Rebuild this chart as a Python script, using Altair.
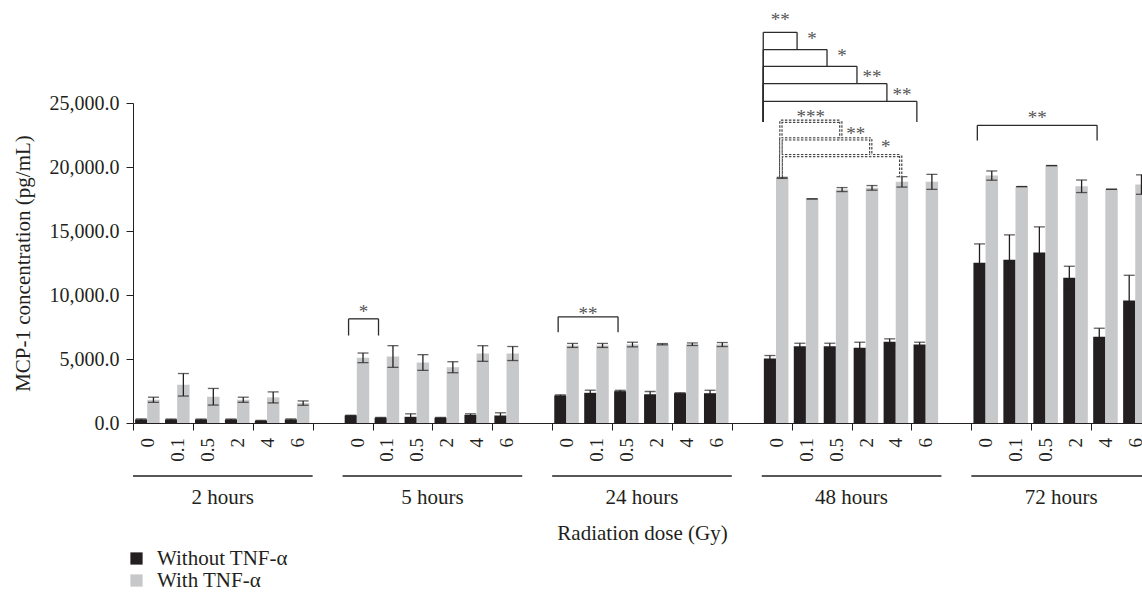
import altair as alt
import pandas as pd

FONT = "Liberation Serif"
BLACK = "#231f20"
GRAY = "#c7c8ca"

GROUPS = ["2 hours", "5 hours", "24 hours", "48 hours", "72 hours"]
DOSES = ["0", "0.1", "0.5", "2", "4", "6"]
SERIES = ["Without TNF-\u03b1", "With TNF-\u03b1"]

# Without TNF-alpha (black bars): means and SEM
NO_2H = [270, 270, 270, 270, 170, 270]
NO_2H_ERR = [50, 40, 40, 40, 30, 50]
NO_5H = [586, 406, 484, 406, 640, 586]
NO_5H_ERR = [20, 30, 234, 30, 78, 211]
NO_24H = [2148, 2358, 2483, 2250, 2327, 2327]
NO_24H_ERR = [50, 203, 70, 210, 40, 230]
NO_48H = [5037, 5998, 5998, 5873, 6342, 6131]
NO_48H_ERR = [234, 234, 234, 437, 234, 180]
NO_72H = [12512, 12746, 13316, 11340, 6732, 9567]
NO_72H_ERR = [1480, 1952, 2007, 906, 672, 1974]

# With TNF-alpha (gray bars): means and SEM
TNF_2H = [1815, 2985, 2050, 1815, 2000, 1555]
TNF_2H_ERR = [200, 880, 650, 200, 430, 170]
TNF_5H = [5092, 5194, 4725, 4358, 5428, 5428]
TNF_5H_ERR = [375, 847, 613, 430, 610, 547]
TNF_24H = [6060, 6060, 6130, 6155, 6155, 6130]
TNF_24H_ERR = [156, 156, 180, 50, 100, 156]
TNF_48H = [19150, 17510, 18236, 18370, 18838, 18838]
TNF_48H_ERR = [40, 0, 156, 180, 406, 586]
TNF_72H = [19330, 18471, 20111, 18494, 18260, 18627]
TNF_72H_ERR = [360, 0, 0, 490, 0, 760]

Y_TICKS = [0, 5000, 10000, 15000, 20000, 25000]

# Significance brackets
BRACKET_GROUP = ["5 hours", "24 hours", "72 hours", "48 hours", "48 hours", "48 hours",
                 "48 hours", "48 hours", "48 hours", "48 hours", "48 hours"]
BRACKET_FROM = ["0", "0", "0", "0", "0", "0", "0", "0", "0", "0", "0"]
BRACKET_TO = ["0.1", "0.5", "4", "0.1", "0.5", "2", "4", "6", "0.5", "2", "4"]
BRACKET_KIND = ["pair", "pair", "pair", "nest", "nest", "nest", "nest", "nest", "dash", "dash", "dash"]
BRACKET_TOP = [8138, 8294, 23258, 30521, 29170, 27866, 26515, 25133, 23571, 22196, 20892]
BRACKET_LEFT_END = [6834, 7091, 22063, 23524, 23524, 23524, 23524, 23524, 19228, 19228, 19228]
BRACKET_RIGHT_END = [6834, 7091, 22063, 29170, 27866, 26515, 25133, 23524, 22196, 20892, 19228]
BRACKET_STARS = ["*", "**", "**", "**", "*", "*", "**", "**", "***", "**", "*"]
BRACKET_STAR_Y = [8942, 8732, 24094, 31693, 30209, 28913, 27273, 25867, 24149, 22790, 21806]
BRACKET_STAR_AFTER = ["0", "0", "0", "0", "0.1", "0.5", "2", "4", "0", "0.5", "2"]

# ---- layout / style constants (fractions of one dose slot) ----
BAR_SPAN = {SERIES[0]: (0.07, 0.475), SERIES[1]: (0.475, 0.89)}
ANCHORS = {"pair": (0.2, 0.2), "nest": (0.05, 0.18), "dash": (0.64, 0.64)}
SLOTS_PER_GROUP = len(DOSES) + 1  # one empty slot between time points
NSLOT = SLOTS_PER_GROUP * len(GROUPS) - 1
VISIBLE_SLOTS = 33.7  # the figure is cropped inside the last dose slot
PLOT_W = 1009

no_means = [NO_2H, NO_5H, NO_24H, NO_48H, NO_72H]
no_errs = [NO_2H_ERR, NO_5H_ERR, NO_24H_ERR, NO_48H_ERR, NO_72H_ERR]
tnf_means = [TNF_2H, TNF_5H, TNF_24H, TNF_48H, TNF_72H]
tnf_errs = [TNF_2H_ERR, TNF_5H_ERR, TNF_24H_ERR, TNF_48H_ERR, TNF_72H_ERR]


def slot_index(g, d):
    return GROUPS.index(g) * SLOTS_PER_GROUP + DOSES.index(d)


rows = []
dose_rows = []
for gi, g in enumerate(GROUPS):
    for di, d in enumerate(DOSES):
        s0 = slot_index(g, d)
        dose_rows.append({"xc": s0 + 0.5, "dose": d})
        for s, means, errs in [(SERIES[0], no_means, no_errs), (SERIES[1], tnf_means, tnf_errs)]:
            m = means[gi][di]
            e = errs[gi][di]
            a, b = BAR_SPAN[s]
            rows.append({"x": s0 + a, "x2": s0 + b, "xc": s0 + (a + b) / 2, "series": s,
                         "mean": m, "lo": m - e, "hi": m + e})
df = pd.DataFrame(rows)
doses_df = pd.DataFrame(dose_rows)

seg_rows = []
lab_rows = []
for i in range(len(BRACKET_TO)):
    la, ra = ANCHORS[BRACKET_KIND[i]]
    g = BRACKET_GROUP[i]
    xl = slot_index(g, BRACKET_FROM[i]) + la
    xr = slot_index(g, BRACKET_TO[i]) + ra
    style = "dash" if BRACKET_KIND[i] == "dash" else "solid"
    top = BRACKET_TOP[i]
    seg_rows.append({"x": xl, "x2": xr, "y": top, "y2": top, "style": style})
    seg_rows.append({"x": xl, "x2": xl, "y": top, "y2": BRACKET_LEFT_END[i], "style": style})
    seg_rows.append({"x": xr, "x2": xr, "y": top, "y2": BRACKET_RIGHT_END[i], "style": style})
    if BRACKET_STAR_AFTER[i] == BRACKET_FROM[i]:
        xa = xl
    else:
        xa = slot_index(g, BRACKET_STAR_AFTER[i]) + ra
    lab_rows.append({"x": (xa + xr) / 2, "y": BRACKET_STAR_Y[i], "text": BRACKET_STARS[i]})
seg = pd.DataFrame(seg_rows)
solid_df = seg[seg["style"] == "solid"]
dash_df = seg[seg["style"] == "dash"]
labs = pd.DataFrame(lab_rows)

grp = pd.DataFrame({
    "x": [gi * SLOTS_PER_GROUP for gi in range(len(GROUPS))],
    "x2": [gi * SLOTS_PER_GROUP + len(DOSES) for gi in range(len(GROUPS))],
    "xc": [gi * SLOTS_PER_GROUP + len(DOSES) / 2 for gi in range(len(GROUPS))],
    "label": GROUPS,
})

YTITLE = "MCP-1 concentration (pg/mL)"
XTITLE = "Radiation dose (Gy)"

xscale = alt.Scale(domain=[0, VISIBLE_SLOTS], nice=False, zero=False)
yscale = alt.Scale(domain=[0, 25000], nice=False, zero=True)

xaxis = alt.Axis(
    title=XTITLE, values=list(range(NSLOT)), labels=False,
    tickSize=7, tickColor=BLACK, domainColor=BLACK, grid=False,
    titleFont=FONT, titleFontSize=21, titleFontWeight="normal", titleColor=BLACK,
    titlePadding=92, titleX=PLOT_W * NSLOT / VISIBLE_SLOTS / 2, titleAlign="center",
)
yaxis = alt.Axis(
    title=YTITLE, values=Y_TICKS, format=",.1f",
    labelFontSize=20, labelFont=FONT, labelColor=BLACK, tickSize=7, tickColor=BLACK,
    domainColor=BLACK, labelPadding=7, grid=False,
    titleFont=FONT, titleFontSize=21, titleFontWeight="normal", titleColor=BLACK,
    titlePadding=16,
)

bars = alt.Chart(df).mark_rect().encode(
    x=alt.X("x:Q", scale=xscale, axis=xaxis),
    x2="x2:Q",
    y=alt.Y("mean:Q", scale=yscale, axis=yaxis),
    y2=alt.datum(0),
    color=alt.Color("series:N", sort=SERIES,
                    scale=alt.Scale(domain=SERIES, range=[BLACK, GRAY]),
                    legend=alt.Legend(title=None, orient="none", legendX=-7, legendY=445,
                                      symbolType="square", symbolSize=150, symbolStrokeWidth=0,
                                      labelFont=FONT, labelFontSize=21, labelColor=BLACK,
                                      labelOffset=10, rowPadding=0, padding=0)),
)
err = alt.Chart(df).mark_rule(color=BLACK, strokeWidth=1.3).encode(
    x="xc:Q", y="lo:Q", y2="hi:Q",
)
cap_hi = alt.Chart(df).mark_tick(color=BLACK, thickness=1.3, size=11, orient="horizontal").encode(
    x="xc:Q", y="hi:Q",
)
cap_lo = alt.Chart(df).mark_tick(color=BLACK, thickness=1.3, size=11, orient="horizontal").encode(
    x="xc:Q", y="lo:Q",
)
dose_text = alt.Chart(doses_df).mark_text(
    font=FONT, fontSize=19, color=BLACK, angle=270, align="right", baseline="middle").encode(
    x="xc:Q", y=alt.value(335), text="dose:N")

solid = alt.Chart(solid_df).mark_rule(color="#2b2b2b", strokeWidth=1.3).encode(
    x="x:Q", x2="x2:Q", y="y:Q", y2="y2:Q")
dash_wide = alt.Chart(dash_df).mark_rule(
    color="#444444", strokeWidth=3.4, strokeDash=[2.5, 1.5]).encode(
    x="x:Q", x2="x2:Q", y="y:Q", y2="y2:Q")
dash_thin = alt.Chart(dash_df).mark_rule(color="white", strokeWidth=1.0).encode(
    x="x:Q", x2="x2:Q", y="y:Q", y2="y2:Q")
stars = alt.Chart(labs).mark_text(
    font=FONT, fontSize=19, color="#555555", baseline="alphabetic", align="center", dy=9).encode(
    x="x:Q", y="y:Q", text="text:N")

grp_lines = alt.Chart(grp).mark_rule(color=BLACK, strokeWidth=1.3).encode(
    x="x:Q", x2="x2:Q", y=alt.value(373))
grp_text = alt.Chart(grp).mark_text(
    font=FONT, fontSize=21, color=BLACK, baseline="alphabetic", align="center").encode(
    x="xc:Q", y=alt.value(401), text="label:N")

chart = alt.layer(
    bars, err, cap_hi, cap_lo, dose_text, solid, dash_wide, dash_thin, stars, grp_lines, grp_text
).properties(
    width=PLOT_W, height=320, background="white",
    autosize=alt.AutoSizeParams(type="none"),
    padding={"left": 133, "top": 103, "right": 0, "bottom": 184},
).configure_view(stroke=None)

chart.save("out.html", embed_options={"renderer": "svg", "actions": False})
